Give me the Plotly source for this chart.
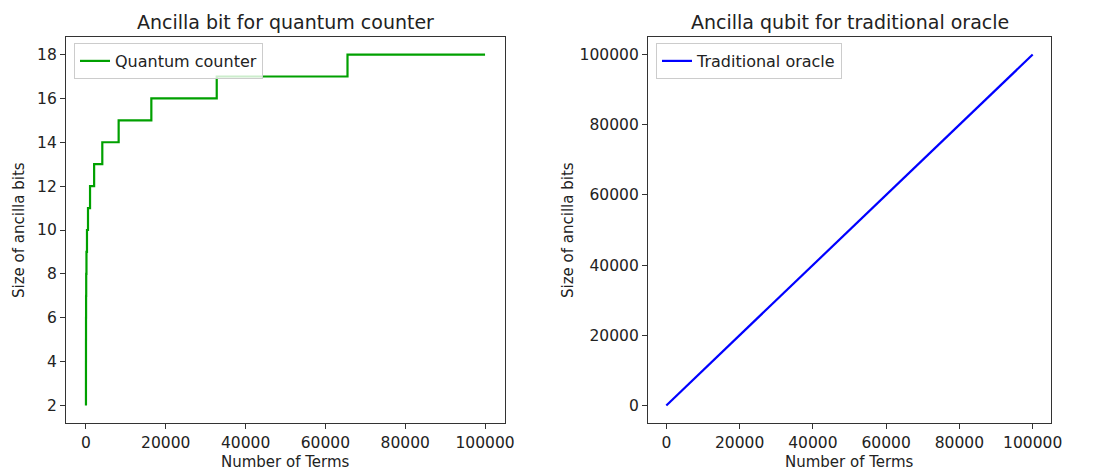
import plotly.graph_objects as go

# Left panel: step points (number of terms where ancilla size increments)
qc_terms = [1, 2, 4, 8, 16, 32, 64, 128, 256, 512, 1024, 2048, 4096, 8192,
            16384, 32768, 65536, 100000]
qc_bits = [2, 3, 4, 5, 6, 7, 8, 9, 10, 11, 12, 13, 14, 15, 16, 17, 18, 18]

# Right panel: traditional oracle (linear)
to_terms = [0, 100000]
to_bits = [0, 100000]

x_ticks = [0, 20000, 40000, 60000, 80000, 100000]
left_ticks_y = [2, 4, 6, 8, 10, 12, 14, 16, 18]
right_ticks_y = [0, 20000, 40000, 60000, 80000, 100000]

W, H = 1110, 473
FONT = "DejaVu Sans"
TXT = "#222222"

def px(x):
    return x / W

def py(y):
    return 1 - y / H

fig = go.Figure()
fig.add_trace(go.Scatter(x=qc_terms, y=qc_bits, mode="lines", line_shape="hv",
                         line=dict(color="#00a000", width=2.2),
                         name="Quantum counter", xaxis="x", yaxis="y",
                         legend="legend"))
fig.add_trace(go.Scatter(x=to_terms, y=to_bits, mode="lines",
                         line=dict(color="#0000ff", width=2.2),
                         name="Traditional oracle", xaxis="x2", yaxis="y2",
                         legend="legend2"))

axis_common = dict(showgrid=False, zeroline=False, showline=True, mirror=True,
                   linecolor="#333333", linewidth=1.3, ticks="outside",
                   ticklen=5, tickwidth=1.2, tickcolor="#333333",
                   automargin=False, tickmode="array",
                   tickfont=dict(family=FONT, size=15.5, color=TXT))

fig.update_layout(
    template="none",
    width=W, height=H, margin=dict(l=0, r=0, t=0, b=0, pad=0),
    paper_bgcolor="white", plot_bgcolor="white",
    font=dict(family=FONT, color=TXT),
    xaxis=dict(domain=[px(66), px(505)], range=[-5000, 105000],
               tickvals=x_ticks, ticktext=[str(v) for v in x_ticks],
               anchor="y", **axis_common),
    yaxis=dict(domain=[py(423), py(37)], range=[1.2, 18.8],
               tickvals=left_ticks_y, ticktext=[str(v) for v in left_ticks_y],
               anchor="x", **axis_common),
    xaxis2=dict(domain=[px(648), px(1051)], range=[-5000, 105000],
                tickvals=x_ticks, ticktext=[str(v) for v in x_ticks],
                anchor="y2", **axis_common),
    yaxis2=dict(domain=[py(423), py(37)], range=[-5000, 105000],
                tickvals=right_ticks_y, ticktext=[str(v) for v in right_ticks_y],
                anchor="x2", **axis_common),
    legend=dict(x=px(74), y=py(43), xanchor="left", yanchor="top",
                bordercolor="#cccccc", borderwidth=1,
                bgcolor="rgba(255,255,255,0.8)",
                itemwidth=30, tracegroupgap=0,
                font=dict(family=FONT, size=16, color=TXT)),
    legend2=dict(x=px(656), y=py(43), xanchor="left", yanchor="top",
                 bordercolor="#cccccc", borderwidth=1,
                 bgcolor="rgba(255,255,255,0.8)",
                 itemwidth=30, tracegroupgap=0,
                 font=dict(family=FONT, size=16, color=TXT)),
    showlegend=True,
)

ann = []
def text(x, y, s, size, angle=0):
    ann.append(dict(x=px(x), y=py(y), xref="paper", yref="paper", text=s,
                    showarrow=False, xanchor="center", yanchor="middle",
                    textangle=angle, font=dict(family=FONT, size=size, color=TXT)))

text(285.5, 22, "Ancilla bit for quantum counter", 19)
text(849.5, 22, "Ancilla qubit for traditional oracle", 19)
text(285.5, 462, "Number of Terms", 15)
text(849.5, 462, "Number of Terms", 15)
text(19, 230, "Size of ancilla bits", 15, -90)
text(568, 230, "Size of ancilla bits", 15, -90)
fig.update_layout(annotations=ann)

fig.write_html("out.html", config={"displayModeBar": False},
               post_script="document.body.style.margin='0';document.body.style.overflow='hidden';")
